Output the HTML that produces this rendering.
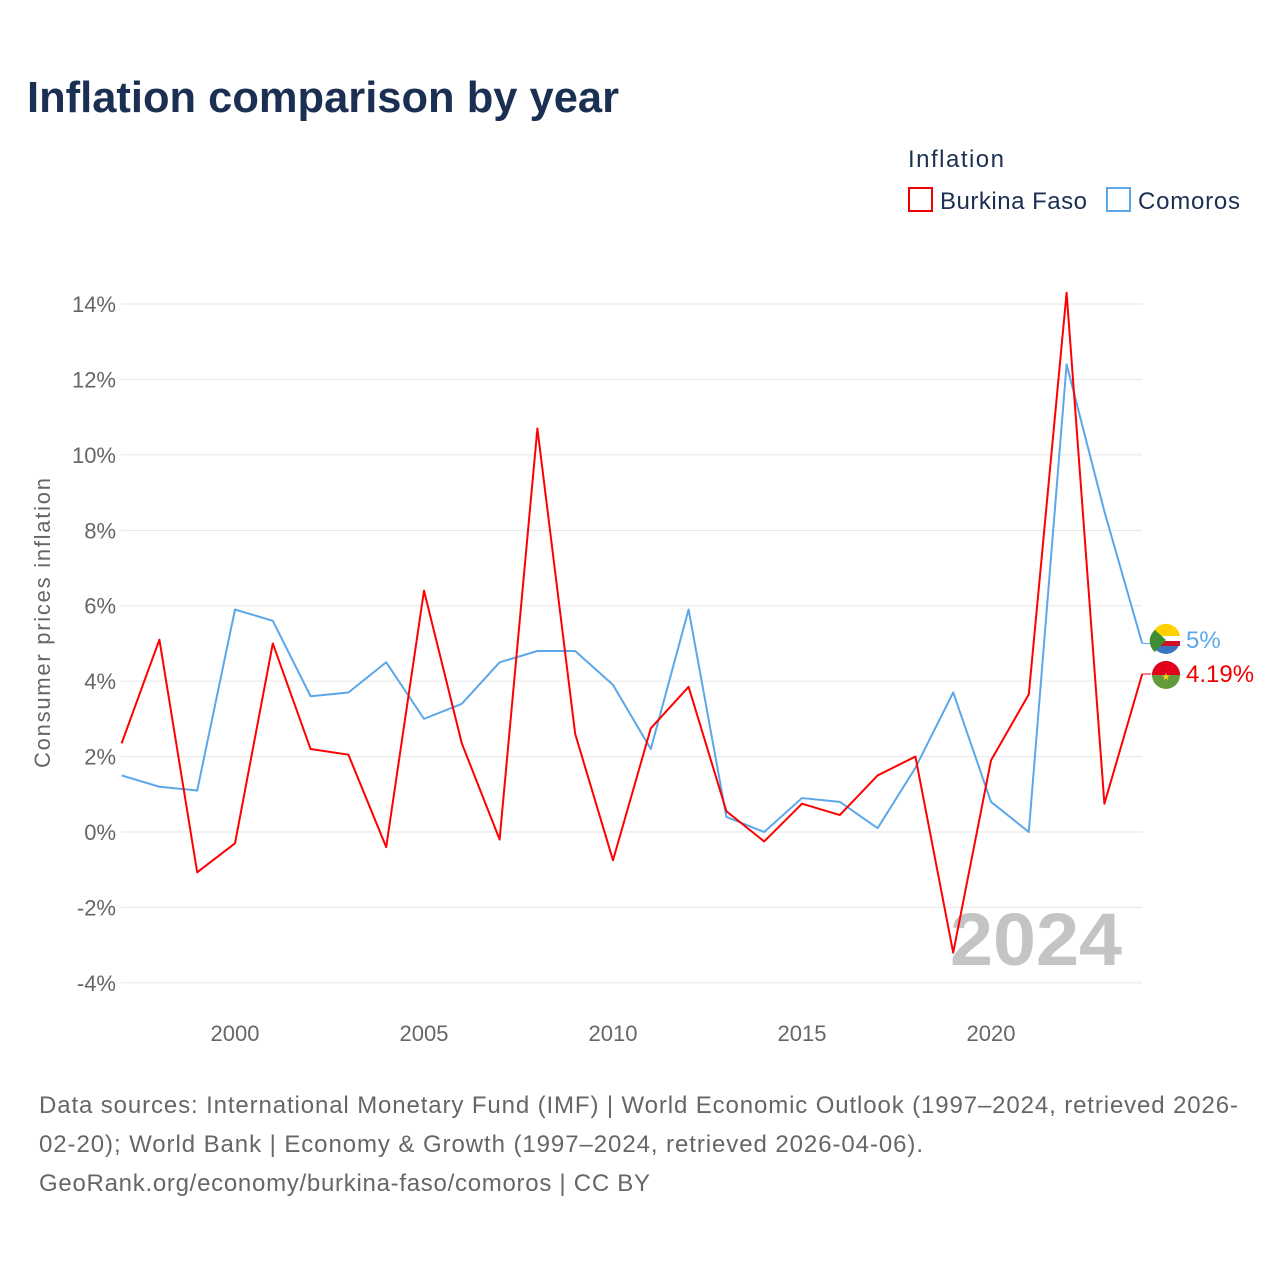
<!DOCTYPE html>
<html><head><meta charset="utf-8"><style>
body{margin:0;width:1280px;height:1280px;background:#fff;font-family:"Liberation Sans",sans-serif;}
</style></head><body>
<svg width="1280" height="1280" font-family="Liberation Sans, sans-serif">
<text x="27" y="112" font-size="44" font-weight="bold" fill="#1b2f52" textLength="592" lengthAdjust="spacingAndGlyphs">Inflation comparison by year</text>
<text x="908" y="167" font-size="24" fill="#1b2f52" textLength="96">Inflation</text>
<g><rect x="909" y="188" width="23" height="23" fill="none" stroke="#e00" stroke-width="2"/><text x="940" y="209" font-size="24" fill="#1b2f52" textLength="147">Burkina Faso</text></g>
<g><rect x="1107" y="188" width="23" height="23" fill="none" stroke="#5ba7ea" stroke-width="2"/><text x="1138" y="209" font-size="24" fill="#1b2f52" textLength="102">Comoros</text></g>
<g id="grid"></g><g id="yt"></g><g id="xt"></g>
<text transform="translate(50,623) rotate(-90)" text-anchor="middle" font-size="22" fill="#666" textLength="290">Consumer prices inflation</text>
<text x="950" y="965" font-size="74" font-weight="bold" fill="#c4c4c4" textLength="172" lengthAdjust="spacingAndGlyphs">2024</text>
<g id="series"></g>
<g><circle cx="1166" cy="640" r="14" fill="#3a75c4"/><path d="M1152 640a14 14 0 0 1 28-4h-28z" fill="#ffd100"/><rect x="1152" y="636" width="28" height="5" fill="#fff"/><rect x="1152" y="641" width="28" height="5" fill="#ce1126"/><path d="M1155 630 L1166 640 L1155 652 A14 14 0 0 1 1155 630z" fill="#3d8e33"/></g>
<g><circle cx="1166" cy="675" r="14" fill="#639a3b"/><path d="M1152 675a14 14 0 0 1 28 0z" fill="#e3001b"/><text x="1166" y="680" text-anchor="middle" font-size="10" fill="#fcd116">★</text></g>
<text x="1186" y="648" font-size="24" fill="#5ba7ea">5%</text>
<text x="1186" y="682" font-size="24" fill="#e00">4.19%</text>
<text font-size="24" fill="#666"><tspan x="39" y="1113" textLength="1199">Data sources: International Monetary Fund (IMF) | World Economic Outlook (1997–2024, retrieved 2026-</tspan><tspan x="39" y="1152" textLength="884">02-20); World Bank | Economy &amp; Growth (1997–2024, retrieved 2026-04-06).</tspan><tspan x="39" y="1191" textLength="611">GeoRank.org/economy/burkina-faso/comoros | CC BY</tspan></text>
</svg>
<script>
const years=[1997,1998,1999,2000,2001,2002,2003,2004,2005,2006,2007,2008,2009,2010,2011,2012,2013,2014,2015,2016,2017,2018,2019,2020,2021,2022,2023,2024];
const burkina=[2.35,5.1,-1.07,-0.3,5.0,2.2,2.05,-0.4,6.4,2.35,-0.2,10.7,2.6,-0.75,2.75,3.85,0.55,-0.25,0.75,0.45,1.5,2.0,-3.2,1.9,3.65,14.3,0.75,4.19];
const comoros=[1.5,1.2,1.1,5.9,5.6,3.6,3.7,4.5,3.0,3.4,4.5,4.8,4.8,3.9,2.2,5.9,0.4,0.0,0.9,0.8,0.1,1.7,3.7,0.8,0.0,12.4,8.5,5.0];
const yTicks=[-4,-2,0,2,4,6,8,10,12,14];
const xTicks=[2000,2005,2010,2015,2020];
const NS="http://www.w3.org/2000/svg";
const X=v=>121.6+(v-1997)*37.8, Y=v=>832-v*37.71;
function mk(t,a,p){const e=document.createElementNS(NS,t);for(const k in a)e.setAttribute(k,a[k]);p.appendChild(e);return e;}
const g=document.getElementById('grid'),yt=document.getElementById('yt'),xt=document.getElementById('xt'),s=document.getElementById('series');
yTicks.forEach(v=>{
 const l=mk('line',{x1:121,x2:1142,y1:Y(v),y2:Y(v),stroke:'#e6e6e6','stroke-width':1},g);
 
 
 const t=mk('text',{x:116,y:Y(v)+8,'text-anchor':'end','font-size':22,fill:'#666'},yt);t.textContent=v+'%';
 
 
});
xTicks.forEach(v=>{
 const t=mk('text',{x:X(v),y:1041,'text-anchor':'middle','font-size':22,fill:'#666'},xt);t.textContent=v;
 
 
});
function line(d,c,n){
 const p=mk('polyline',{points:d.map((v,i)=>X(years[i])+','+Y(v)).join(' '),fill:'none',stroke:c,'stroke-width':2,'stroke-linejoin':'round'},s);
 
 
 const last=d[d.length-1];
 const l=mk('line',{x1:X(2024),x2:X(2024)+9,y1:Y(last),y2:Y(last),stroke:c,'stroke-width':1},s);
 
 
}
line(comoros,'#5ba7ea','line-comoros');
line(burkina,'#f00','line-burkina-faso');
</script>
</body></html>
